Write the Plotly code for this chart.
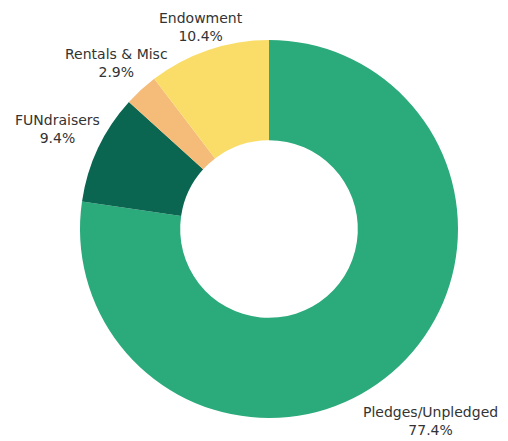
import numpy as np
import plotly.graph_objects as go

labels = ["Pledges/Unpledged", "FUNdraisers", "Rentals & Misc", "Endowment"]
shares = [77.4, 9.4, 2.9, 10.4]
colors = ["#2BAA7B", "#0A6650", "#F5BB78", "#FADD68"]

# the page body adds an 8px margin, so keep the figure inside the window
W, H = 500, 433
# pie geometry in figure pixels (centre and outer radius)
cx, cy, R = 261, 221, 189
# how far past the rim each label's centre sits
label_pad = [65, 45, 36, 24]
font_size = 14

fig = go.Figure(go.Pie(
    labels=labels,
    values=shares,
    hole=0.47,
    sort=False,
    direction="clockwise",
    rotation=0,
    marker=dict(colors=colors, line=dict(width=0)),
    textinfo="none",
    hoverinfo="label+percent",
    domain=dict(x=[(cx - R) / W, (cx + R) / W],
                y=[(H - cy - R) / H, (H - cy + R) / H]),
    showlegend=False,
))

# outside labels, centred on each slice's mid angle
total = sum(shares)
start = 0.0
for lab, val, pad in zip(labels, shares, label_pad):
    mid = np.radians((start + val / 2) / total * 360)
    start += val
    rad = R + pad
    px = cx + rad * np.sin(mid)
    py = cy - rad * np.cos(mid)
    # keep wide labels from running off the right edge
    half_w = 0.62 * font_size * len(lab) / 2
    px = min(px, W - half_w - 4)
    fig.add_annotation(
        x=px / W, y=1 - py / H,
        xref="paper", yref="paper",
        xanchor="center", yanchor="middle",
        text=f"{lab}<br>{val:.1f}%",
        showarrow=False, align="center",
        font=dict(size=font_size, color="#333333", family="DejaVu Sans"),
    )

fig.update_layout(
    width=W,
    height=H,
    margin=dict(l=0, r=0, t=0, b=0),
    paper_bgcolor="white",
    plot_bgcolor="white",
)

fig.write_html("out.html")
